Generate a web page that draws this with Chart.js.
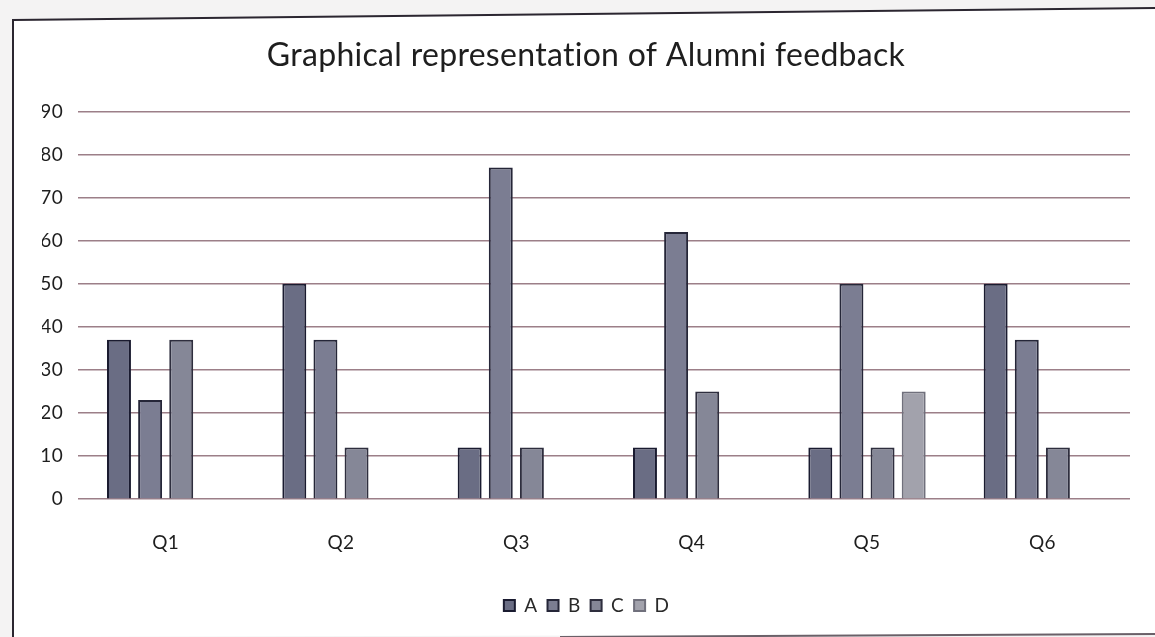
<!DOCTYPE html>
<html>
<head>
<meta charset="utf-8">
<title>Graphical representation of Alumni feedback</title>
<script src="https://cdn.jsdelivr.net/npm/chart.js@4.4.1/dist/chart.umd.min.js"></script>
<style>
    html, body { margin: 0; padding: 0; background: #f4f3f3; }
    #wrap { position: relative; width: 1155px; height: 637px; }
</style>
</head>
<body>
<div id="wrap"><canvas id="feedback-chart"></canvas></div>
<script>
// Alumni feedback counts per question
const questions = ['Q1', 'Q2', 'Q3', 'Q4', 'Q5', 'Q6'];
const optionA = [37, 50, 12, 12, 12, 50];
const optionB = [23, 37, 77, 62, 50, 37];
const optionC = [37, 12, 12, 25, 12, 12];
const optionD = [0, 0, 0, 0, 25, 0];
const yTicks = [0, 10, 20, 30, 40, 50, 60, 70, 80, 90];

const FONT = 'Lato, "Open Sans", sans-serif';

// paper background and the printed chart frame
const paperFrame = {
    id: 'paperFrame',
    beforeDraw(chart) {
        const c = chart.ctx;
        const w = chart.width, h = chart.height;
        // small letter spacing keeps Lato from joining "ti"
        c.letterSpacing = '0.3px';
        c.save();
        c.fillStyle = '#f4f3f3';
        c.fillRect(0, 0, w, h);
        c.fillStyle = '#ffffff';
        c.beginPath();
        c.moveTo(13, 20);
        c.lineTo(w, 8);
        c.lineTo(w, 634);
        c.lineTo(13, 637);
        c.closePath();
        c.fill();
        c.strokeStyle = '#2b2630';
        c.lineWidth = 2;
        c.beginPath();
        c.moveTo(13, h);
        c.lineTo(13, 20);
        c.lineTo(w, 8);
        c.stroke();
        c.strokeStyle = '#6a6068';
        c.beginPath();
        c.moveTo(560, 637);
        c.lineTo(w, 634);
        c.stroke();
        c.restore();
    }
};

const ctx = document.getElementById('feedback-chart');

new Chart(ctx, {
    type: 'bar',
    data: {
        labels: questions,
        datasets: [{
            label: 'A',
            data: optionA,
            backgroundColor: '#6a6d84',
            borderColor: '#1a1b30',
            borderWidth: 2
        }, {
            label: 'B',
            data: optionB,
            backgroundColor: '#7b7d92',
            borderColor: '#252638',
            borderWidth: 2
        }, {
            label: 'C',
            data: optionC,
            backgroundColor: '#858797',
            borderColor: '#2e2e3e',
            borderWidth: 2
        }, {
            label: 'D',
            data: optionD,
            backgroundColor: '#a2a2ac',
            borderColor: '#70707c',
            borderWidth: 2
        }]
    },
    options: {
        responsive: true,
        maintainAspectRatio: false,
        animation: false,
        devicePixelRatio: 1,
        categoryPercentage: 0.71,
        barPercentage: 0.77,
        layout: {
            padding: { top: 20, left: 42, right: 25, bottom: 12 }
        },
        plugins: {
            title: {
                display: true,
                text: 'Graphical representation of Alumni feedback',
                color: '#1e1e1e',
                font: { family: FONT, size: 32, weight: 'normal' },
                padding: { top: 16, bottom: 37 }
            },
            legend: {
                position: 'bottom',
                labels: {
                    color: '#2a2a2a',
                    font: { family: FONT, size: 19 },
                    boxWidth: 11,
                    boxHeight: 11,
                    padding: 10
                }
            },
            tooltip: { enabled: false }
        },
        scales: {
            x: {
                grid: { display: false, drawTicks: false },
                border: { display: false },
                ticks: {
                    color: '#1e1e1e',
                    font: { family: FONT, size: 19 },
                    padding: 32
                }
            },
            y: {
                min: 0,
                max: 90,
                afterFit(scale) { scale.width = 36; },
                afterBuildTicks(scale) {
                    scale.ticks = yTicks.map(v => ({ value: v }));
                },
                grid: {
                    color: '#9c7f88',
                    lineWidth: 1.5,
                    drawTicks: false
                },
                border: { display: false },
                ticks: {
                    color: '#1e1e1e',
                    font: { family: FONT, size: 19 },
                    padding: 15
                }
            }
        }
    },
    plugins: [paperFrame]
});
</script>
</body>
</html>
